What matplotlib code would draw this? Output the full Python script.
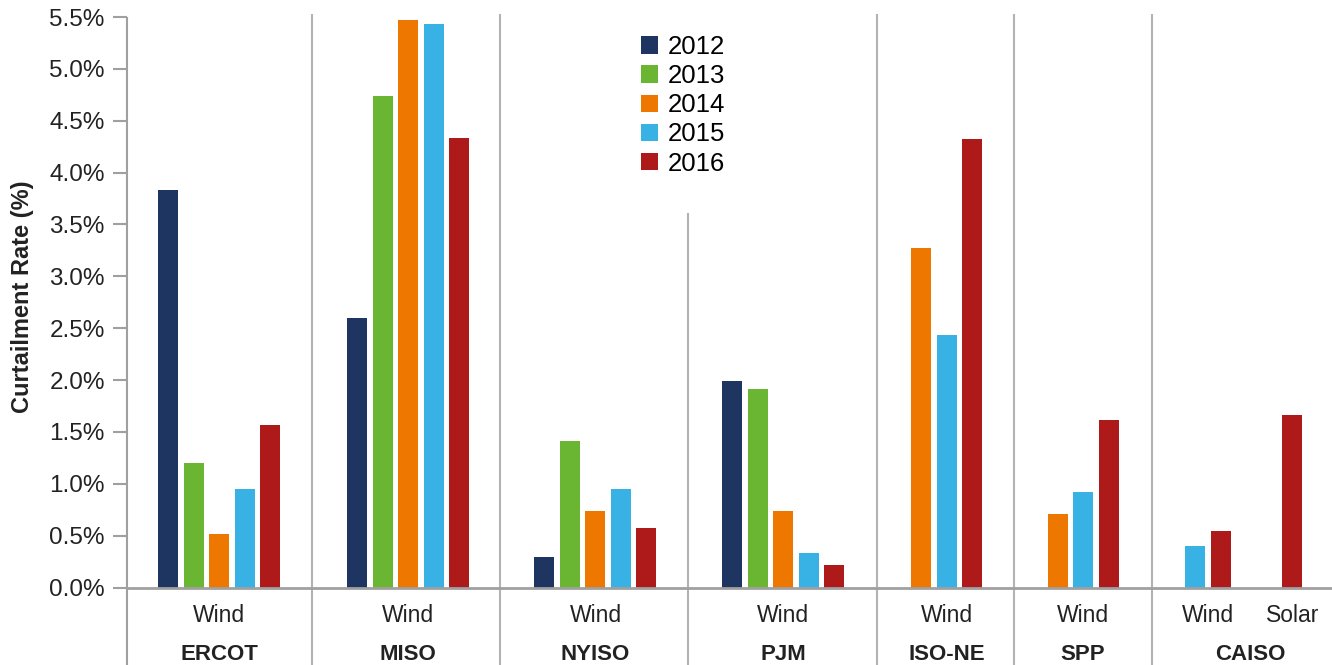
import matplotlib
matplotlib.use('Agg')
import matplotlib.pyplot as plt
from matplotlib.patches import Patch
from matplotlib.transforms import blended_transform_factory
from matplotlib.ticker import FuncFormatter

# Data (curtailment rate, %)
regions = ["ERCOT", "MISO", "NYISO", "PJM", "ISO-NE", "SPP", "CAISO", "CAISO"]
techs = ["Wind", "Wind", "Wind", "Wind", "Wind", "Wind", "Wind", "Solar"]
years = ["2012", "2013", "2014", "2015", "2016"]
rate_2012 = [3.83, 2.60, 0.29, 1.99, None, None, None, None]
rate_2013 = [1.20, 4.74, 1.41, 1.91, None, None, None, None]
rate_2014 = [0.515, 5.47, 0.74, 0.74, 3.27, 0.71, None, None]
rate_2015 = [0.95, 5.43, 0.95, 0.33, 2.43, 0.92, 0.40, None]
rate_2016 = [1.57, 4.33, 0.575, 0.215, 4.32, 1.615, 0.545, 1.665]
series = [rate_2012, rate_2013, rate_2014, rate_2015, rate_2016]
colors = ["#1e3461", "#6ab531", "#ee7700", "#38b1e4", "#ae1a1a"]

# Layout (x in units of bar pitch)
group_x = [3.61, 11.02, 18.37, 25.73, 32.14, 37.49, 42.39, 45.69]
separators = [7.27, 14.63, 22.0, 29.41, 34.78, 40.2]
short_sep = 22.0
bar_w = 0.784
xmax = 47.25

FONT = ['Liberation Sans', 'DejaVu Sans']
GRID = "#b3b3b3"

W, H = 1332, 665
fig = plt.figure(figsize=(W / 100, H / 100), dpi=100)
ax = fig.add_axes([127 / W, 77.5 / H, 1205 / W, 570.5 / H])

# bars: each group is centred on the bars that exist
for g, cx in enumerate(group_x):
    present = [i for i, s in enumerate(series) if s[g] is not None]
    n = len(present)
    for k, i in enumerate(present):
        ax.bar(cx + (k - (n - 1) / 2), series[i][g], width=bar_w,
               color=colors[i], zorder=3)

ax.set_xlim(0, xmax)
ax.set_ylim(0, 5.5)
ax.set_yticks([i * 0.5 for i in range(12)])
ax.yaxis.set_major_formatter(FuncFormatter(lambda v, p: f"{v:.1f}%"))
ax.set_xticks([])
ax.tick_params(axis='y', length=10, width=1.5, color="#a0a0a0", pad=6,
               labelsize=17.5, labelcolor="#222222")
for lab in ax.get_yticklabels():
    lab.set_family(FONT)

for s in ["top", "right", "left"]:
    ax.spines[s].set_visible(False)
ax.spines["bottom"].set_color("#a0a0a0")
ax.spines["bottom"].set_linewidth(2)
ax.spines["bottom"].set_zorder(4)

trans = blended_transform_factory(ax.transData, ax.transAxes)
bottom = -77.5 / 570.5
ax.vlines([0], bottom, 1.0, transform=trans, color="#a0a0a0", lw=1.5,
          clip_on=False, zorder=4)
for sx in separators:
    top = 3.61 / 5.5 if sx == short_sep else 1.005
    ax.vlines([sx], bottom, top, transform=trans, color=GRID, lw=1.5,
              clip_on=False, zorder=1)

# category labels
for g, cx in enumerate(group_x):
    ax.text(cx, -35 / 570.5, techs[g], transform=trans, ha='center',
            va='baseline', fontsize=16.5, family=FONT, color="#222222")
region_x = {}
for g, r in enumerate(regions):
    region_x.setdefault(r, []).append(group_x[g])
for r, xs in region_x.items():
    ax.text(sum(xs) / len(xs), -72.5 / 570.5, r, transform=trans,
            ha='center', va='baseline', fontsize=16, family=FONT,
            fontweight='bold', color="#222222")

ax.set_ylabel("Curtailment Rate (%)", fontsize=17, fontweight='bold',
              family=FONT, color="#222222")
ax.yaxis.set_label_coords(-(127 - 34) / 1205, (587.5 - 297) / 570.5)

handles = [Patch(facecolor=c, edgecolor='none') for c in colors]
ax.legend(handles, years, loc='upper left',
          bbox_to_anchor=(641 / W, 1 - 35 / H), bbox_transform=fig.transFigure,
          frameon=False, prop={'family': FONT, 'size': 18.5},
          handlelength=0.66, handleheight=0.66, handletextpad=0.4,
          labelspacing=0.2, borderpad=0, borderaxespad=0)

fig.savefig("out.png", dpi=100)
